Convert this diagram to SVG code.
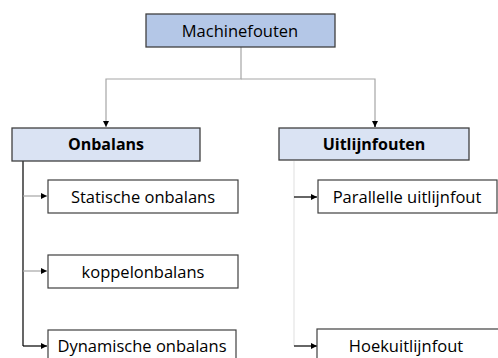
<svg xmlns="http://www.w3.org/2000/svg" width="498" height="358" viewBox="0 0 498 358">
<defs>
<marker id="ah" viewBox="0 0 6 6" refX="6" refY="3" markerWidth="6" markerHeight="6" markerUnits="userSpaceOnUse" orient="auto">
<path d="M0,0 L6,3 L0,6 z" fill="#000"/>
</marker>
<style>
text{font-family:"Open Sans","Liberation Sans",sans-serif;font-size:16.5px;fill:#000;text-anchor:middle}
.b{font-weight:bold;font-size:16px}
.top{fill:#B4C7E7;stroke:#404040;stroke-width:1.3}
.mid{fill:#DAE3F3;stroke:#404040;stroke-width:1.3}
.leaf{fill:#fff;stroke:#404040;stroke-width:1.2}
.c{fill:none;stroke:#a6a6a6;stroke-width:1.2}
.cd{fill:none;stroke:#000;stroke-width:1.2}
.cl{fill:none;stroke:#e4e4e4;stroke-width:1.2}
</style>
</defs>
<rect width="498" height="358" fill="#fff"/>
<g id="connectors">
<path class="c" d="M241,47 V79 H106 V127" marker-end="url(#ah)"/>
<path class="c" d="M241,79 H375 V127"/>
<path class="cd" d="M375,121 V127" marker-end="url(#ah)"/>
<path class="cd" d="M23,161 V346"/>
<path class="c" d="M23,196 H47" marker-end="url(#ah)"/>
<path class="c" d="M23,271 H47" marker-end="url(#ah)"/>
<path class="cd" d="M23,346 H47" marker-end="url(#ah)"/>
<path class="cl" d="M294,161 V346"/>
<path class="cd" d="M294,197 H317" marker-end="url(#ah)"/>
<path class="cd" d="M294,346 H317" marker-end="url(#ah)"/>
</g>
<g id="machinefouten">
<rect class="top" x="146" y="14" width="189" height="33"/>
<text x="240" y="37">Machinefouten</text>
</g>
<g id="onbalans">
<rect class="mid" x="12" y="128" width="188" height="33"/>
<text class="b" x="106" y="150">Onbalans</text>
</g>
<g id="uitlijnfouten">
<rect class="mid" x="279" y="128" width="190" height="32"/>
<text class="b" x="374" y="150">Uitlijnfouten</text>
</g>
<g id="statische">
<rect class="leaf" x="48" y="180" width="190" height="33"/>
<text x="143" y="203">Statische onbalans</text>
</g>
<g id="koppel">
<rect class="leaf" x="48" y="255" width="190" height="33"/>
<text x="143" y="278">koppelonbalans</text>
</g>
<g id="dynamische">
<rect class="leaf" x="48" y="330" width="188" height="40"/>
<text x="142" y="352">Dynamische onbalans</text>
</g>
<g id="parallelle">
<rect class="leaf" x="318" y="180" width="179" height="33"/>
<text x="407" y="203">Parallelle uitlijnfout</text>
</g>
<g id="hoek">
<rect class="leaf" x="317" y="329" width="190" height="40"/>
<text x="406" y="352">Hoekuitlijnfout</text>
</g>
</svg>
